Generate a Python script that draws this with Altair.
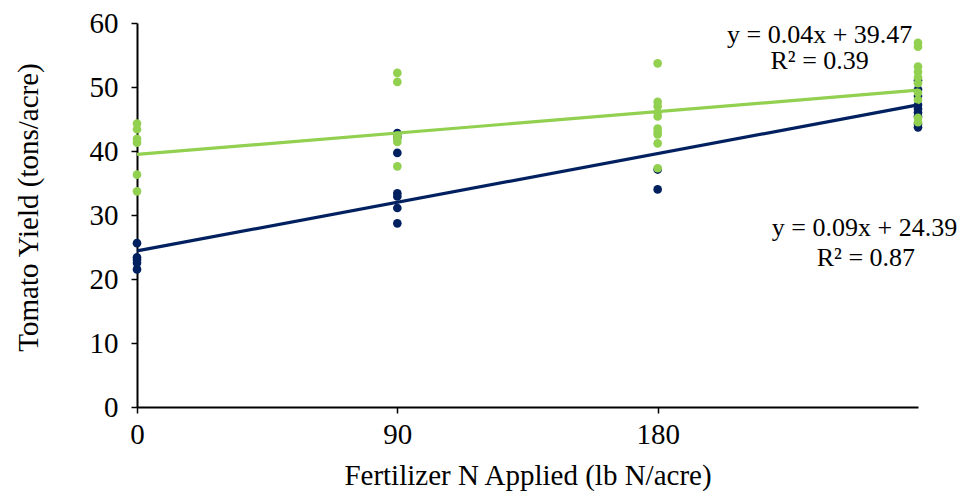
import altair as alt
import pandas as pd

# ---- data ----
navy_x = [0, 0, 0, 0, 0,
          90, 90, 90, 90, 90, 90, 90,
          180, 180,
          270, 270, 270, 270, 270, 270, 270, 270, 270]
navy_y = [25.6, 23.4, 23.0, 22.5, 21.5,
          42.8, 42.2, 39.7, 33.4, 32.9, 31.1, 28.7,
          34.0, 37.1,
          51.0, 49.6, 48.6, 47.2, 46.6, 46.0, 45.4, 44.2, 43.7]

green_x = [0, 0, 0, 0, 0, 0,
           90, 90, 90, 90, 90, 90,
           180, 180, 180, 180, 180, 180, 180, 180, 180, 180,
           270, 270, 270, 270, 270, 270, 270, 270, 270, 270]
green_y = [44.3, 43.4, 41.9, 41.3, 36.3, 33.7,
           52.2, 50.8, 42.4, 41.9, 41.4, 37.6,
           53.7, 47.7, 47.0, 46.0, 45.4, 43.5, 43.0, 42.6, 41.2, 37.3,
           56.9, 56.3, 53.2, 52.4, 51.5, 50.6, 49.1, 48.0, 45.2, 44.5]

fit_x = [0, 270]
navy_fit = [24.39, 47.2]
green_fit = [39.47, 49.5]

labels = ["y = 0.04x + 39.47", "R² = 0.39", "y = 0.09x + 24.39", "R² = 0.87"]
label_x = [236, 236, 251.5, 252.0]
label_y = [58.1, 54.0, 28.0, 23.3]

x_ticks = [0, 90, 180]
y_ticks = [0, 10, 20, 30, 40, 50, 60]

NAVY = "#002060"
GREEN = "#92D050"
FONT = "Liberation Serif"
FS_TXT = 26
FS_AX = 29

pts = pd.DataFrame({
    "x": navy_x + green_x,
    "y": navy_y + green_y,
    "series": ["navy"] * len(navy_x) + ["green"] * len(green_x),
    "ord": list(range(len(navy_x) + len(green_x))),
})
fits = pd.DataFrame({
    "x": fit_x + fit_x,
    "y": navy_fit + green_fit,
    "series": ["navy", "navy", "green", "green"],
})
txt = pd.DataFrame({"x": label_x, "y": label_y, "label": labels})

color = alt.Color("series:N", scale=alt.Scale(domain=["navy", "green"], range=[NAVY, GREEN]), legend=None)
xs = alt.Scale(domain=[0, 270], nice=False)
ys = alt.Scale(domain=[0, 60], nice=False)

xenc = alt.X("x:Q", scale=xs, axis=alt.Axis(values=x_ticks, title="Fertilizer N Applied (lb N/acre)",
                                            labelPadding=7, format="d", labelFlush=False,
                                            titleBaseline="alphabetic", titleY=77))
yenc = alt.Y("y:Q", scale=ys, axis=alt.Axis(values=y_ticks, title="Tomato Yield (tons/acre)",
                                            labelPadding=13, titlePadding=46, titleY=184))

points = alt.Chart(pts).mark_circle(size=75, opacity=1).encode(
    x=xenc, y=yenc, color=color, order="ord:Q")

lines = alt.Chart(fits).mark_line(strokeWidth=3.2).encode(
    x=alt.X("x:Q", scale=xs), y=alt.Y("y:Q", scale=ys), color=color, detail="series:N")

texts = alt.Chart(txt).mark_text(font=FONT, fontSize=FS_TXT, color="black", align="center", baseline="middle").encode(
    x=alt.X("x:Q", scale=xs), y=alt.Y("y:Q", scale=ys), text="label:N")

chart = alt.layer(points, lines, texts).properties(
    width=781, height=384,
    padding={"left": 129, "top": 15, "right": 40, "bottom": 84},
    autosize=alt.AutoSizeParams(type="none"),
).configure_view(stroke=None).configure_axis(
    grid=False, domainColor="black", domainWidth=2, tickColor="black", tickWidth=1.5, tickSize=6,
    labelFont=FONT, labelFontSize=FS_AX, labelColor="black",
    titleFont=FONT, titleFontSize=FS_AX, titleFontWeight="normal", titleColor="black",
)

chart.save("out.html", embed_options={"renderer": "svg", "actions": False})
